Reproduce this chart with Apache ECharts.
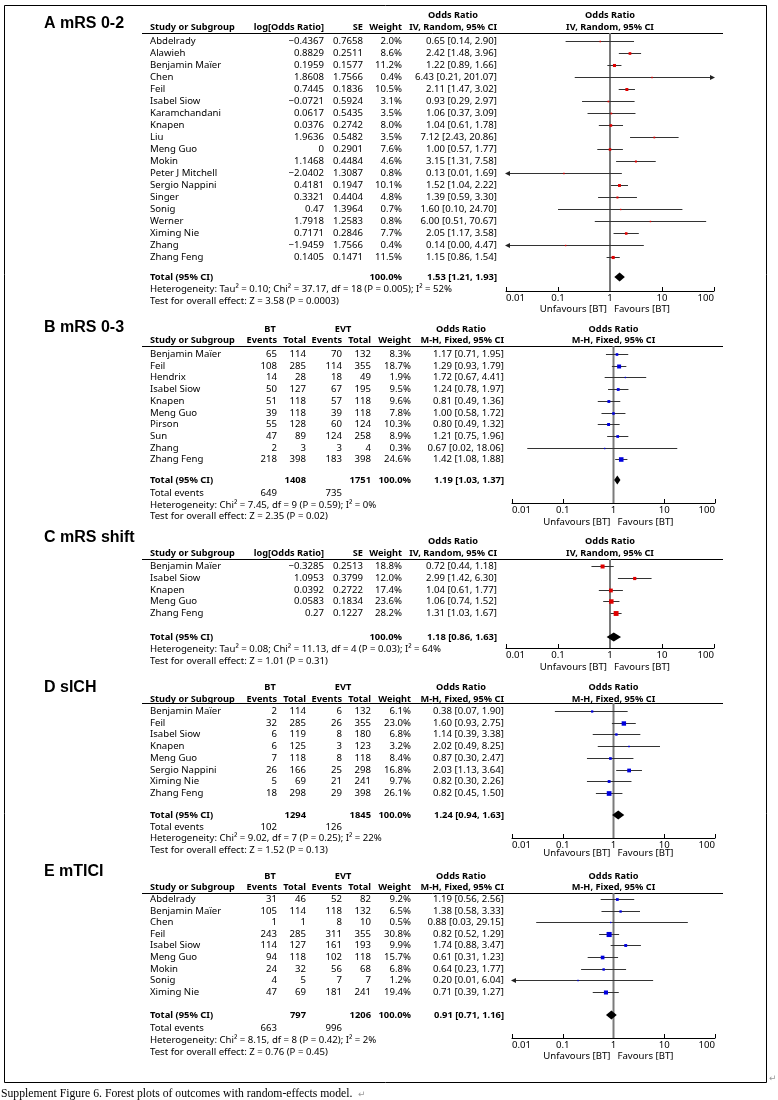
<!DOCTYPE html>
<html><head><meta charset="utf-8">
<script src="https://cdn.jsdelivr.net/npm/echarts@6/dist/echarts.min.js"></script>
<style>html,body{margin:0;padding:0;background:#fff}#c{width:778px;height:1100px}</style>
</head><body><div id="c"></div>
<script>
// ---------- DATA ----------
const tickLabels = ['0.01','0.1','1','10','100'];

// A mRS 0-2
const aStudy = ['Abdelrady','Alawieh','Benjamin Maïer','Chen','Feil','Isabel Siow','Karamchandani','Knapen','Liu','Meng Guo','Mokin','Peter J Mitchell','Sergio Nappini','Singer','Sonig','Werner','Ximing Nie','Zhang','Zhang Feng'];
const aLogOR = [-0.4367,0.8829,0.1959,1.8608,0.7445,-0.0721,0.0617,0.0376,1.9636,0,1.1468,-2.0402,0.4181,0.3321,0.47,1.7918,0.7171,-1.9459,0.1405];
const aSE = [0.7658,0.2511,0.1577,1.7566,0.1836,0.5924,0.5435,0.2742,0.5482,0.2901,0.4484,1.3087,0.1947,0.4404,1.3964,1.2583,0.2846,1.7566,0.1471];
const aWeight = [2.0,8.6,11.2,0.4,10.5,3.1,3.5,8.0,3.5,7.6,4.6,0.8,10.1,4.8,0.7,0.8,7.7,0.4,11.5];
const aOR = [0.65,2.42,1.22,6.43,2.11,0.93,1.06,1.04,7.12,1.00,3.15,0.13,1.52,1.39,1.60,6.00,2.05,0.14,1.15];
const aLo = [0.14,1.48,0.89,0.21,1.47,0.29,0.37,0.61,2.43,0.57,1.31,0.01,1.04,0.59,0.10,0.51,1.17,0.00,0.86];
const aHi = [2.90,3.96,1.66,201.07,3.02,2.97,3.09,1.78,20.86,1.77,7.58,1.69,2.22,3.30,24.70,70.67,3.58,4.47,1.54];
const aTotal = [1.53,1.21,1.93];
const aHet = 'Heterogeneity: Tau² = 0.10; Chi² = 37.17, df = 18 (P = 0.005); I² = 52%';
const aTest = 'Test for overall effect: Z = 3.58 (P = 0.0003)';

// B mRS 0-3
const bStudy = ['Benjamin Maïer','Feil','Hendrix','Isabel Siow','Knapen','Meng Guo','Pirson','Sun','Zhang','Zhang Feng'];
const bBtEvents = [65,108,14,50,51,39,55,47,2,218];
const bBtTotal = [114,285,28,127,118,118,128,89,3,398];
const bEvtEvents = [70,114,18,67,57,39,60,124,3,183];
const bEvtTotal = [132,355,49,195,118,118,124,258,4,398];
const bWeight = [8.3,18.7,1.9,9.5,9.6,7.8,10.3,8.9,0.3,24.6];
const bOR = [1.17,1.29,1.72,1.24,0.81,1.00,0.80,1.21,0.67,1.42];
const bLo = [0.71,0.93,0.67,0.78,0.49,0.58,0.49,0.75,0.02,1.08];
const bHi = [1.95,1.79,4.41,1.97,1.36,1.72,1.32,1.96,18.06,1.88];
const bTotal = [1.19,1.03,1.37];
const bSums = [1408,1751];
const bEventSums = [649,735];
const bHet = 'Heterogeneity: Chi² = 7.45, df = 9 (P = 0.59); I² = 0%';
const bTest = 'Test for overall effect: Z = 2.35 (P = 0.02)';

// C mRS shift
const cStudy = ['Benjamin Maïer','Isabel Siow','Knapen','Meng Guo','Zhang Feng'];
const cLogOR = [-0.3285,1.0953,0.0392,0.0583,0.27];
const cSE = [0.2513,0.3799,0.2722,0.1834,0.1227];
const cWeight = [18.8,12.0,17.4,23.6,28.2];
const cOR = [0.72,2.99,1.04,1.06,1.31];
const cLo = [0.44,1.42,0.61,0.74,1.03];
const cHi = [1.18,6.30,1.77,1.52,1.67];
const cTotal = [1.18,0.86,1.63];
const cHet = 'Heterogeneity: Tau² = 0.08; Chi² = 11.13, df = 4 (P = 0.03); I² = 64%';
const cTest = 'Test for overall effect: Z = 1.01 (P = 0.31)';

// D sICH
const dStudy = ['Benjamin Maïer','Feil','Isabel Siow','Knapen','Meng Guo','Sergio Nappini','Ximing Nie','Zhang Feng'];
const dBtEvents = [2,32,6,6,7,26,5,18];
const dBtTotal = [114,285,119,125,118,166,69,298];
const dEvtEvents = [6,26,8,3,8,25,21,29];
const dEvtTotal = [132,355,180,123,118,298,241,398];
const dWeight = [6.1,23.0,6.8,3.2,8.4,16.8,9.7,26.1];
const dOR = [0.38,1.60,1.14,2.02,0.87,2.03,0.82,0.82];
const dLo = [0.07,0.93,0.39,0.49,0.30,1.13,0.30,0.45];
const dHi = [1.90,2.75,3.38,8.25,2.47,3.64,2.26,1.50];
const dTotal = [1.24,0.94,1.63];
const dSums = [1294,1845];
const dEventSums = [102,126];
const dHet = 'Heterogeneity: Chi² = 9.02, df = 7 (P = 0.25); I² = 22%';
const dTest = 'Test for overall effect: Z = 1.52 (P = 0.13)';

// E mTICI
const eStudy = ['Abdelrady','Benjamin Maïer','Chen','Feil','Isabel Siow','Meng Guo','Mokin','Sonig','Ximing Nie'];
const eBtEvents = [31,105,1,243,114,94,24,4,47];
const eBtTotal = [46,114,1,285,127,118,32,5,69];
const eEvtEvents = [52,118,8,311,161,102,56,7,181];
const eEvtTotal = [82,132,10,355,193,118,68,7,241];
const eWeight = [9.2,6.5,0.5,30.8,9.9,15.7,6.8,1.2,19.4];
const eOR = [1.19,1.38,0.88,0.82,1.74,0.61,0.64,0.20,0.71];
const eLo = [0.56,0.58,0.03,0.52,0.88,0.31,0.23,0.01,0.39];
const eHi = [2.56,3.33,29.15,1.29,3.47,1.23,1.77,6.04,1.27];
const eTotal = [0.91,0.71,1.16];
const eSums = [797,1206];
const eEventSums = [663,996];
const eHet = 'Heterogeneity: Chi² = 8.15, df = 8 (P = 0.42); I² = 2%';
const eTest = 'Test for overall effect: Z = 0.76 (P = 0.45)';

// ---------- LAYOUT / STYLE ----------
const FONT = '"Noto Sans", "DejaVu Sans", sans-serif';
const FS = 9.6;    // body text
const HFS = 9.2;   // bold header text
const TFS = 9.4;   // bold total row
const AX_MIN = 0.01, AX_MAX = 100;
const IVCOL = {c1:324, c2:363, w:402, ci:497, ciHead:453};
const MHCOL = {bt:270, evt:343, e1:277, t1:306, e2:342, t2:371, w:411, ci:504, ciHead:461};

const panels = [
  {title:'A mRS 0-2', kind:'iv', method:'IV, Random, 95% CI', color:'#e00000',
   study:aStudy, c1:aLogOR, c2:aSE, weight:aWeight, or:aOR, lo:aLo, hi:aHi, total:aTotal, het:aHet, test:aTest,
   L:{titleY:24,h1Y:15,h2Y:27,lineY:33,y0:41,dy:12,totalY:277,hetY:289,testY:301,axisY:291,favY:309,plotL:506,plotR:714}},
  {title:'B mRS 0-3', kind:'mh', method:'M-H, Fixed, 95% CI', color:'#0000dd',
   study:bStudy, be:bBtEvents, bt:bBtTotal, ee:bEvtEvents, et:bEvtTotal, weight:bWeight, or:bOR, lo:bLo, hi:bHi, total:bTotal, sums:bSums, ev:bEventSums, het:bHet, test:bTest,
   L:{titleY:328,h1Y:329,h2Y:340,lineY:346,y0:354,dy:11.7,totalY:480,evY:493,hetY:505,testY:516,axisY:503,favY:522,plotL:512,plotR:715}},
  {title:'C mRS shift', kind:'iv', method:'IV, Random, 95% CI', color:'#e00000',
   study:cStudy, c1:cLogOR, c2:cSE, weight:cWeight, or:cOR, lo:cLo, hi:cHi, total:cTotal, het:cHet, test:cTest,
   L:{titleY:538,h1Y:541,h2Y:553,lineY:559,y0:566,dy:11.8,totalY:637,hetY:649,testY:661,axisY:648,favY:667,plotL:506,plotR:714}},
  {title:'D sICH', kind:'mh', method:'M-H, Fixed, 95% CI', color:'#0000dd',
   study:dStudy, be:dBtEvents, bt:dBtTotal, ee:dEvtEvents, et:dEvtTotal, weight:dWeight, or:dOR, lo:dLo, hi:dHi, total:dTotal, sums:dSums, ev:dEventSums, het:dHet, test:dTest,
   L:{titleY:688,h1Y:687,h2Y:699,lineY:703,y0:711,dy:11.7,totalY:815,evY:827,hetY:838,testY:850,axisY:838,favY:853,plotL:512,plotR:715}},
  {title:'E mTICI', kind:'mh', method:'M-H, Fixed, 95% CI', color:'#0000dd',
   study:eStudy, be:eBtEvents, bt:eBtTotal, ee:eEvtEvents, et:eEvtTotal, weight:eWeight, or:eOR, lo:eLo, hi:eHi, total:eTotal, sums:eSums, ev:eEventSums, het:eHet, test:eTest,
   L:{titleY:872,h1Y:876,h2Y:887,lineY:893,y0:899,dy:11.6,totalY:1015,evY:1028,hetY:1040,testY:1052,axisY:1038,favY:1056,plotL:512,plotR:715}}
];

function txt(x, y, s, o) {
  o = o || {};
  const al = o.align || 'left';
  return {type:'text', x:x, y:y, silent:true, z:10,
    style:{text:String(s), fill:o.color || '#000',
      font:(o.bold ? 'bold ' : '') + (o.size || FS) + 'px ' + (o.family || FONT),
      textAlign:al, align:al, textVerticalAlign:'middle', verticalAlign:'middle'}};
}
const H = (o) => Object.assign({bold:true, size:HFS}, o || {});
const T = (o) => Object.assign({bold:true, size:TFS}, o || {});
const fmtNum = v => (v < 0 ? '\u2212' : '') + String(Math.abs(v));
const fmtCI = (a, b, c) => a.toFixed(2) + ' [' + b.toFixed(2) + ', ' + c.toFixed(2) + ']';

const graphic = [];
const grids = [], xAxes = [], yAxes = [], series = [];

panels.forEach((p, k) => {
  const L = p.L;
  const ry = i => Math.round(L.y0 + i * L.dy);
  const cx = (L.plotL + L.plotR) / 2;
  graphic.push(txt(44, L.titleY, p.title, {bold:true, size:16, family:'"Liberation Sans", Arial, sans-serif'}));
  graphic.push({type:'line', silent:true, shape:{x1:142, y1:L.lineY + 0.5, x2:723, y2:L.lineY + 0.5}, style:{stroke:'#000', lineWidth:1}});
  graphic.push(txt(cx, L.h1Y, 'Odds Ratio', H({align:'center'})));
  graphic.push(txt(cx, L.h2Y, p.method, H({align:'center'})));
  graphic.push(txt(150, L.h2Y, 'Study or Subgroup', H()));
  const n = p.study.length;
  if (p.kind === 'iv') {
    const C = IVCOL;
    graphic.push(txt(C.c1, L.h2Y, 'log[Odds Ratio]', H({align:'right'})));
    graphic.push(txt(C.c2, L.h2Y, 'SE', H({align:'right'})));
    graphic.push(txt(C.w, L.h2Y, 'Weight', H({align:'right'})));
    graphic.push(txt(C.ciHead, L.h1Y, 'Odds Ratio', H({align:'center'})));
    graphic.push(txt(C.ci, L.h2Y, p.method, H({align:'right'})));
    for (let i = 0; i < n; i++) {
      const y = ry(i);
      graphic.push(txt(150, y, p.study[i]));
      graphic.push(txt(C.c1, y, fmtNum(p.c1[i]), {align:'right'}));
      graphic.push(txt(C.c2, y, p.c2[i].toFixed(4), {align:'right'}));
      graphic.push(txt(C.w, y, p.weight[i].toFixed(1) + '%', {align:'right'}));
      graphic.push(txt(C.ci, y, fmtCI(p.or[i], p.lo[i], p.hi[i]), {align:'right'}));
    }
    graphic.push(txt(150, L.totalY, 'Total (95% CI)', T()));
    graphic.push(txt(C.w, L.totalY, '100.0%', T({align:'right'})));
    graphic.push(txt(C.ci, L.totalY, fmtCI(p.total[0], p.total[1], p.total[2]), T({align:'right'})));
  } else {
    const C = MHCOL;
    graphic.push(txt(C.bt, L.h1Y, 'BT', H({align:'center'})));
    graphic.push(txt(C.evt, L.h1Y, 'EVT', H({align:'center'})));
    graphic.push(txt(C.e1, L.h2Y, 'Events', H({align:'right'})));
    graphic.push(txt(C.t1, L.h2Y, 'Total', H({align:'right'})));
    graphic.push(txt(C.e2, L.h2Y, 'Events', H({align:'right'})));
    graphic.push(txt(C.t2, L.h2Y, 'Total', H({align:'right'})));
    graphic.push(txt(C.w, L.h2Y, 'Weight', H({align:'right'})));
    graphic.push(txt(C.ciHead, L.h1Y, 'Odds Ratio', H({align:'center'})));
    graphic.push(txt(C.ci, L.h2Y, p.method, H({align:'right'})));
    for (let i = 0; i < n; i++) {
      const y = ry(i);
      graphic.push(txt(150, y, p.study[i]));
      graphic.push(txt(C.e1, y, p.be[i], {align:'right'}));
      graphic.push(txt(C.t1, y, p.bt[i], {align:'right'}));
      graphic.push(txt(C.e2, y, p.ee[i], {align:'right'}));
      graphic.push(txt(C.t2, y, p.et[i], {align:'right'}));
      graphic.push(txt(C.w, y, p.weight[i].toFixed(1) + '%', {align:'right'}));
      graphic.push(txt(C.ci, y, fmtCI(p.or[i], p.lo[i], p.hi[i]), {align:'right'}));
    }
    graphic.push(txt(150, L.totalY, 'Total (95% CI)', T()));
    graphic.push(txt(C.t1, L.totalY, p.sums[0], T({align:'right'})));
    graphic.push(txt(C.t2, L.totalY, p.sums[1], T({align:'right'})));
    graphic.push(txt(C.w, L.totalY, '100.0%', T({align:'right'})));
    graphic.push(txt(C.ci, L.totalY, fmtCI(p.total[0], p.total[1], p.total[2]), T({align:'right'})));
    graphic.push(txt(150, L.evY, 'Total events'));
    graphic.push(txt(C.e1, L.evY, p.ev[0], {align:'right'}));
    graphic.push(txt(C.e2, L.evY, p.ev[1], {align:'right'}));
  }
  graphic.push(txt(150, L.hetY, p.het));
  graphic.push(txt(150, L.testY, p.test));
  graphic.push(txt(cx - 3, L.favY, 'Unfavours [BT]', {align:'right'}));
  graphic.push(txt(cx + 4, L.favY, 'Favours [BT]'));

  const yMin = (L.lineY - L.y0) / L.dy;
  const yMax = (L.axisY - L.y0) / L.dy;
  const totalRow = (L.totalY - L.y0) / L.dy;
  grids.push({left:L.plotL, top:L.lineY, width:L.plotR - L.plotL, height:L.axisY - L.lineY, containLabel:false});
  xAxes.push({type:'log', logBase:10, gridIndex:k, min:AX_MIN, max:AX_MAX,
    axisLine:{show:true, onZero:false, lineStyle:{color:'#000', width:1}},
    axisTick:{show:true, inside:true, length:4, lineStyle:{color:'#000', width:1}},
    minorTick:{show:false}, splitLine:{show:false},
    axisLabel:{show:true, margin:2, fontSize:FS, fontFamily:FONT, color:'#000',
      alignMinLabel:'left', alignMaxLabel:'right',
      formatter: v => tickLabels[Math.round(Math.log10(v)) + 2]}});
  yAxes.push({type:'value', gridIndex:k, inverse:true, min:yMin, max:yMax, show:false});

  series.push({type:'line', xAxisIndex:k, yAxisIndex:k, data:[[1, yMin], [1, yMax]], symbol:'none', silent:true,
    lineStyle:{color:'#7a7a7a', width:2}, z:1, animation:false});

  const sData = p.study.map((s, i) => [p.or[i], p.lo[i], p.hi[i], i, p.weight[i]]);
  const col = p.color;
  series.push({type:'custom', xAxisIndex:k, yAxisIndex:k, clip:false, silent:true, z:3, animation:false,
    encode:{x:0, y:3}, data:sData,
    renderItem: (params, api) => {
      const or = api.value(0), lo = api.value(1), hi = api.value(2), row = api.value(3), w = api.value(4);
      const pL = api.coord([Math.max(lo, AX_MIN), row]);
      const pH = api.coord([Math.min(hi, AX_MAX), row]);
      const pO = api.coord([or, row]);
      const y = Math.round(pO[1]) + 0.5;
      const ch = [{type:'line', shape:{x1:pL[0], y1:y, x2:pH[0], y2:y}, style:{stroke:'#333', lineWidth:1}}];
      if (lo <= AX_MIN) ch.push({type:'polygon', shape:{points:[[pL[0] - 1, y], [pL[0] + 4, y - 2.5], [pL[0] + 4, y + 2.5]]}, style:{fill:'#222'}});
      if (hi >= AX_MAX) ch.push({type:'polygon', shape:{points:[[pH[0] + 1, y], [pH[0] - 4, y - 2.5], [pH[0] - 4, y + 2.5]]}, style:{fill:'#222'}});
      const s = Math.max(1.4, 0.92 * Math.sqrt(w));
      ch.push({type:'rect', shape:{x:pO[0] - s / 2, y:y - s / 2, width:s, height:s}, style:{fill:col}});
      return {type:'group', children:ch};
    }});
  series.push({type:'custom', xAxisIndex:k, yAxisIndex:k, clip:false, silent:true, z:4, animation:false,
    encode:{x:0, y:3}, data:[[p.total[0], p.total[1], p.total[2], totalRow]],
    renderItem: (params, api) => {
      const pO = api.coord([api.value(0), api.value(3)]);
      const pL = api.coord([api.value(1), api.value(3)]);
      const pH = api.coord([api.value(2), api.value(3)]);
      const y = pO[1], h = 4.5;
      return {type:'polygon', shape:{points:[[pL[0], y], [pO[0], y - h], [pH[0], y], [pO[0], y + h]]}, style:{fill:'#000'}};
    }});
});

graphic.push({type:'rect', silent:true, shape:{x:4.5, y:5.5, width:762, height:1077}, style:{fill:'none', stroke:'#000', lineWidth:1}});
graphic.push(txt(1, 1094, 'Supplement Figure 6. Forest plots of outcomes with random-effects model.', {size:11.7, family:'"Liberation Serif", "Times New Roman", serif'}));
graphic.push(txt(358, 1094, '\u21b5', {size:9, color:'#999'}));
graphic.push(txt(769, 1078, '\u21b5', {size:9, color:'#999'}));

const chart = echarts.init(document.getElementById('c'), null, {renderer:'canvas'});
chart.setOption({
  backgroundColor:'#fff',
  animation:false,
  grid:grids, xAxis:xAxes, yAxis:yAxes, series:series, graphic:graphic
});
</script>
</body></html>
